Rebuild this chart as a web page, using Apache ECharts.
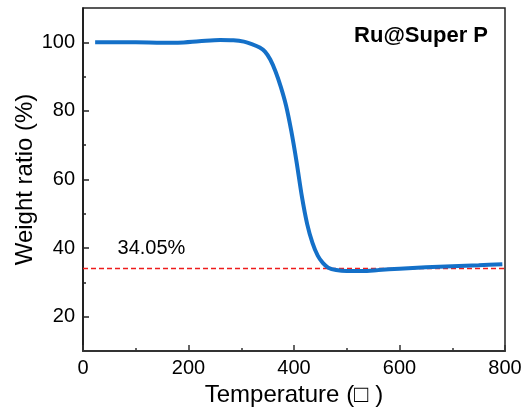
<!DOCTYPE html>
<html><head><meta charset="utf-8">
<script src="https://cdn.jsdelivr.net/npm/echarts@6/dist/echarts.min.js"></script>
<style>html,body{margin:0;padding:0;background:#fff}#c{width:529px;height:412px}</style>
</head><body><div id="c"></div>
<script>
const temps   = [23, 100, 150, 180, 220, 260, 285, 305, 320, 335, 345, 355, 365, 375, 385, 395, 405, 415, 425, 435, 445, 455, 465, 480, 500, 530, 560, 600, 650, 700, 750, 795];
const weights = [100, 100, 99.9, 99.9, 100.3, 100.7, 100.6, 100.2, 99.5, 98.5, 97.3, 95, 91.5, 87, 81.5, 74, 65, 55, 47, 41.5, 37.8, 35.6, 34.3, 33.6, 33.3, 33.3, 33.6, 34.0, 34.4, 34.7, 35.0, 35.3];
const residue = 34.05;
const residueLabel = '34.05%';
const xTicks = [0, 200, 400, 600, 800];
const yTicks = [20, 40, 60, 80, 100];
const yMinor = [30, 50, 70, 90];
const sampleName = 'Ru@Super P';

const font = '"Liberation Sans", Arial, sans-serif';
const chart = echarts.init(document.getElementById('c'), null, {renderer: 'canvas'});
chart.setOption({
  animation: false,
  grid: {left: 83, right: 24, top: 8, bottom: 61, show: true, borderColor: '#222', borderWidth: 1.5, backgroundColor: 'transparent'},
  title: {text: sampleName, right: 36, top: 20, textStyle: {fontFamily: font, fontSize: 22, fontWeight: 'bold', color: '#000'}},
  xAxis: {
    type: 'value', min: 0, max: 800, interval: 200,
    name: 'Temperature (\u25A1 )', nameLocation: 'middle', nameGap: 30,
    nameTextStyle: {fontFamily: font, fontSize: 24, color: '#000'},
    axisLine: {lineStyle: {color: '#333', width: 2}},
    axisTick: {inside: true, length: 6, lineStyle: {color: '#333', width: 1.5}},
    minorTick: {show: true, splitNumber: 2, length: 3, lineStyle: {color: '#333', width: 1.5}},
    axisLabel: {fontFamily: font, fontSize: 20, color: '#000', margin: 7},
    splitLine: {show: false}
  },
  yAxis: [{
    type: 'value', min: 10, max: 110,
    name: 'Weight ratio (%)', nameLocation: 'middle', nameGap: 46, nameMoveOverlap: false,
    nameTextStyle: {fontFamily: font, fontSize: 24, color: '#000'},
    axisLine: {show: true, lineStyle: {color: '#111', width: 1.5}},
    axisTick: {inside: true, length: 6, customValues: yTicks, lineStyle: {color: '#222', width: 1.5}},
    axisLabel: {fontFamily: font, fontSize: 20, color: '#000', margin: 8, customValues: yTicks},
    splitLine: {show: false}
  }, {
    type: 'value', min: 10, max: 110, position: 'left',
    axisLine: {show: false},
    axisTick: {show: true, inside: true, length: 3, customValues: yMinor, lineStyle: {color: '#222', width: 1.5}},
    axisLabel: {show: false},
    splitLine: {show: false}
  }],
  series: [{
    type: 'line', data: [[0, residue], [800, residue]], showSymbol: false, silent: true,
    lineStyle: {color: '#ee1c1c', width: 1.5, type: [5, 3]}, z: 2
  }, {
    type: 'line', data: temps.map((t, i) => [t, weights[i]]), smooth: 0.3, showSymbol: false,
    lineStyle: {color: '#1470c8', width: 4}, z: 3
  }, {
    type: 'scatter', symbolSize: 0, data: [[56, 40]], silent: true,
    itemStyle: {opacity: 1},
    label: {show: true, position: 'right', formatter: residueLabel, fontFamily: font, fontSize: 20, color: '#000', opacity: 1}
  }]
});
</script></body></html>
